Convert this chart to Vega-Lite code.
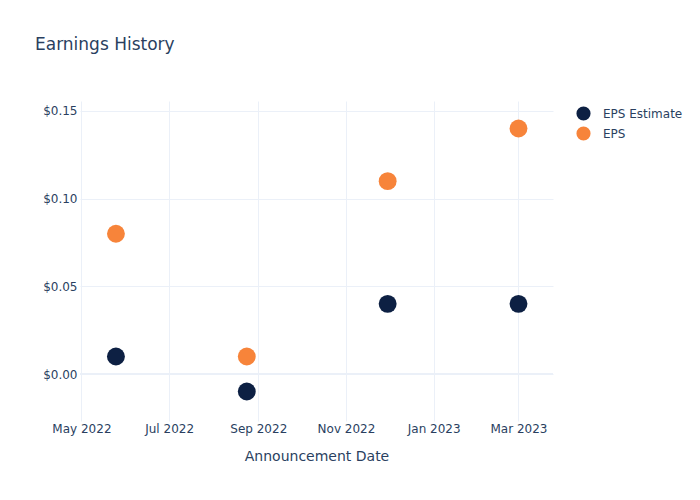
{
  "$schema": "https://vega.github.io/schema/vega-lite/v6.json",
  "width": 473,
  "height": 320,
  "autosize": {"type": "none"},
  "padding": {"left": 80, "top": 101, "right": 147, "bottom": 79},
  "background": "white",
  "title": {
    "text": "Earnings History",
    "anchor": "start",
    "frame": "group",
    "dx": -45,
    "offset": 47,
    "font": "DejaVu Sans",
    "fontSize": 17,
    "fontWeight": "normal",
    "color": "#2a3f5f"
  },
  "config": {
    "view": {"stroke": null},
    "font": "DejaVu Sans"
  },
  "data": {
    "values": [
      {"date": "2022-05-25", "series": "EPS Estimate", "value": 0.01},
      {"date": "2022-08-24", "series": "EPS Estimate", "value": -0.01},
      {"date": "2022-11-30", "series": "EPS Estimate", "value": 0.04},
      {"date": "2023-03-01", "series": "EPS Estimate", "value": 0.04},
      {"date": "2022-05-25", "series": "EPS", "value": 0.08},
      {"date": "2022-08-24", "series": "EPS", "value": 0.01},
      {"date": "2022-11-30", "series": "EPS", "value": 0.11},
      {"date": "2023-03-01", "series": "EPS", "value": 0.14}
    ]
  },
  "layer": [
    {
      "mark": {"type": "rule", "color": "#ebf0f8", "strokeWidth": 2},
      "encoding": {"y": {"datum": 0, "type": "quantitative"}}
    },
    {
      "mark": {"type": "point", "filled": true, "opacity": 1, "size": 320},
      "encoding": {
        "x": {
          "field": "date",
          "type": "temporal",
          "scale": {"domain": ["2022-04-30", "2023-03-25"]},
          "axis": {
            "title": "Announcement Date",
            "titleFont": "DejaVu Sans",
            "titleFontSize": 14,
            "titleFontWeight": "normal",
            "titleColor": "#2a3f5f",
            "titlePadding": 15,
            "format": "%b %Y",
            "tickCount": {"interval": "month", "step": 2},
            "labelFontSize": 12,
            "labelColor": "#2a3f5f",
            "labelPadding": 2,
            "ticks": false,
            "domain": false,
            "grid": true,
            "gridColor": "#ebf0f8",
            "labelOverlap": false,
            "labelFlush": false
          }
        },
        "y": {
          "field": "value",
          "type": "quantitative",
          "scale": {"domain": [-0.0268, 0.1557], "nice": false, "zero": false},
          "axis": {
            "title": null,
            "values": [0, 0.05, 0.1, 0.15],
            "format": "$.2f",
            "labelFontSize": 12,
            "labelColor": "#2a3f5f",
            "labelPadding": 3,
            "ticks": false,
            "domain": false,
            "grid": true,
            "gridColor": "#ebf0f8"
          }
        },
        "color": {
          "field": "series",
          "type": "nominal",
          "scale": {"domain": ["EPS Estimate", "EPS"], "range": ["#0d2043", "#f7843a"]},
          "legend": {
            "title": null,
            "orient": "none",
            "legendX": 496,
            "legendY": 5,
            "padding": 0,
            "symbolType": "circle",
            "symbolSize": 200,
            "symbolStrokeWidth": 0,
            "symbolOpacity": 1,
            "labelFontSize": 12,
            "labelColor": "#2a3f5f",
            "labelOffset": 12,
            "rowPadding": 5
          }
        }
      }
    }
  ]
}
